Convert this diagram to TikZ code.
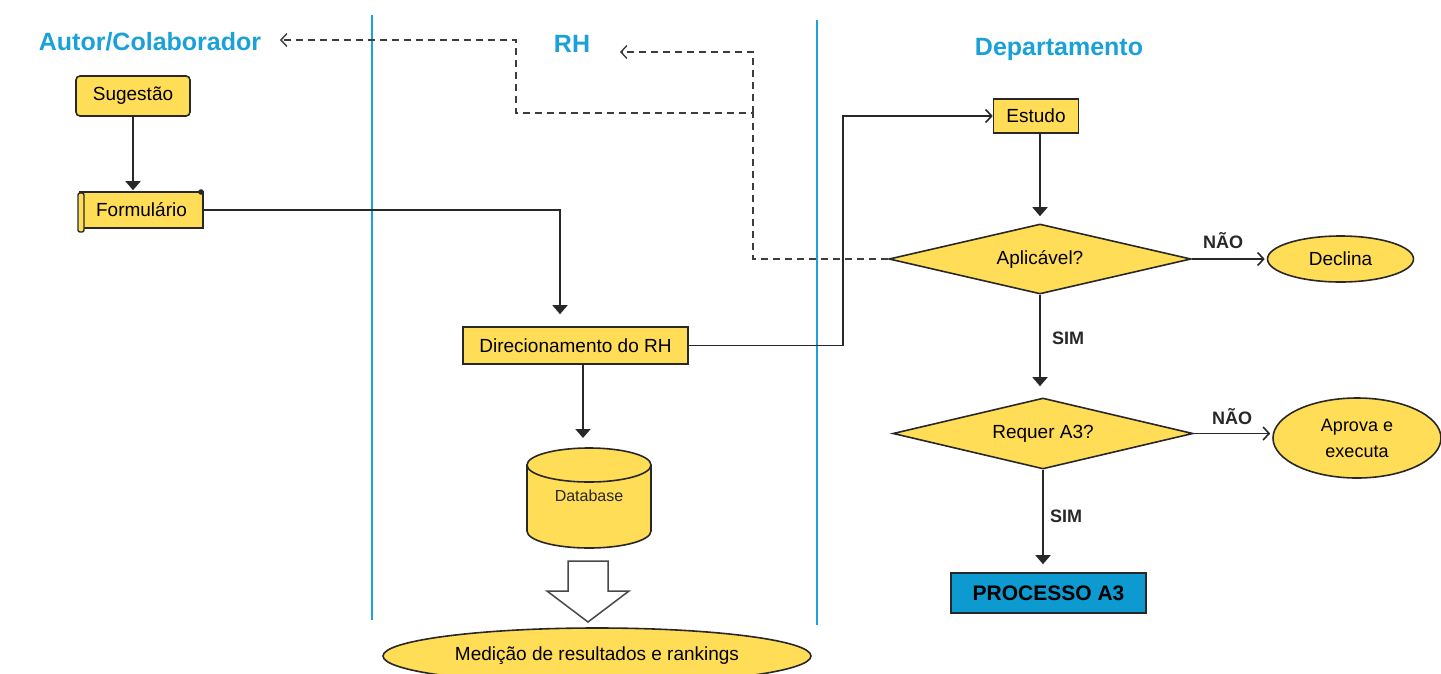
\documentclass[tikz,border=0pt]{standalone}
\usepackage{fontspec}
\setmainfont{Liberation Sans}
\usetikzlibrary{shapes.geometric,arrows.meta}
\definecolor{ybox}{RGB}{255,221,87}
\definecolor{ttl}{RGB}{27,161,217}
\definecolor{lane}{RGB}{30,160,219}
\definecolor{pblue}{RGB}{12,154,208}
\definecolor{ink}{RGB}{40,40,40}
\tikzset{
  box/.style={draw=ink, line width=1.6pt, fill=ybox, inner sep=0pt, font=\fontsize{19}{23}\selectfont},
  dia/.style={box, diamond, aspect=4},
  ell/.style={box, ellipse, align=center},
  title/.style={text=ttl, font=\fontsize{25}{30}\selectfont\bfseries, inner sep=0pt},
  lbl/.style={font=\fontsize{18}{22}\selectfont\bfseries, text=ink, inner sep=0pt},
  flow/.style={draw=ink, line width=1.8pt, -{Triangle[length=9pt,width=15pt]}},
  openflow/.style={draw=ink, line width=1.8pt, -{Straight Barb[length=6pt,width=13pt,line width=1.6pt]}},
  dashline/.style={draw=ink!90, line width=1.6pt, dash pattern=on 7pt off 5pt, -{Straight Barb[length=6pt,width=13pt,line width=1.4pt]}},
  lanestyle/.style={draw=lane, line width=1.8pt}
}
\begin{document}
\begin{tikzpicture}[x=1pt,y=-1pt]
\useasboundingbox (0,0) rectangle (1441,673);
\clip (0,0) rectangle (1441,673);
\fill[white] (0,0) rectangle (1441,673);

% swim-lane separators
\draw[lanestyle] (372,15) -- (372,620);
\draw[lanestyle] (817,20) -- (817,625);

% titles
\node[title] (autor) at (150,42) {Autor/Colaborador};
\node[title] (rh) at (572,44) {RH};
\node[title] (dep) at (1059,49) {Departamento};

% left lane
\node[box, rounded corners=4pt, minimum width=114, minimum height=40] (sug) at (133,96) {Sugestão};
\node[box, minimum width=123, minimum height=36] (form) at (141.5,210) {Formulário};
\filldraw[draw=ink, line width=1.4pt, fill=ybox, rounded corners=2pt] (78,193) rectangle (84,232);
\fill[ink] (201,192) circle (2.8);

% RH lane
\node[box, minimum width=225, minimum height=37] (dir) at (575.5,345.5) {Direcionamento do RH};
% database cylinder
\filldraw[draw=ink, line width=1.6pt, fill=ybox] (589,531) ellipse (62 and 17);
\fill[ybox] (527,465) rectangle (651,531);
\draw[ink, line width=1.6pt] (527,465) -- (527,531);
\draw[ink, line width=1.6pt] (651,465) -- (651,531);
\filldraw[draw=ink, line width=1.6pt, fill=ybox] (589,465) ellipse (62 and 17);
\node[inner sep=0pt, font=\fontsize{16}{19}\selectfont, text=ink] (db) at (589,496) {Database};
\coordinate (dbtop) at (583,448);
% hollow block arrow
\filldraw[draw=ink!85, line width=1.5pt, fill=white] (568,561) -- (608,561) -- (608,591) -- (629,591) -- (588,622) -- (547,591) -- (568,591) -- cycle;
\node[ell, minimum width=428, minimum height=56] (med) at (597,656) {Medição de resultados e rankings};

% Department lane
\node[box, minimum width=85, minimum height=34] (est) at (1036,116) {Estudo};
\node[dia, minimum width=302, minimum height=70] (apl) at (1040,259) {Aplicável?};
\node[ell, minimum width=146, minimum height=46] (dec) at (1340.5,259) {Declina};
\node[dia, minimum width=300, minimum height=71] (req) at (1043,433.5) {Requer A3?};
\node[ell, minimum width=168, minimum height=80, font=\fontsize{18}{26}\selectfont] (apr) at (1357,438) {Aprova e\\executa};
\node[box, fill=pblue, minimum width=195, minimum height=40, font=\fontsize{21}{25}\selectfont\bfseries] (proc) at (1048.5,593) {PROCESSO A3};

% solid connectors
\draw[flow, shorten >=1pt] (sug.south) -- (sug.south |- form.north);
\draw[flow, shorten >=12pt] (form.east) -| ([xshift=-15.5pt]dir.north);
\draw[flow, shorten >=10pt] (dbtop |- dir.south) -- (dbtop);
\draw[openflow] (dir.east) -- ++(154,0) |- (est.west);
\draw[flow, shorten >=7pt] (apl.north |- est.south) -- (apl.north);
\draw[openflow, shorten >=2pt] (apl.east) -- (dec.west);
\draw[flow, shorten >=11pt] (apl.south) -- (apl.south |- req.north);
\draw[openflow, shorten >=2pt] (req.east) -- (req.east -| apr.west);
\draw[flow, shorten >=8pt] (req.south) -- (req.south |- proc.north);

% branch labels
\node[lbl] (n1) at (1223,241) {NÃO};
\node[lbl] (s1) at (1068,338) {SIM};
\node[lbl] (n2) at (1232,417) {NÃO};
\node[lbl] (s2) at (1066,516) {SIM};

% dashed feedback connectors
\coordinate (j1) at (753,259);
\coordinate (j2) at (753,113);
\coordinate (j3) at (516,113);
\coordinate (j4) at (516,40);
\coordinate (autorIn) at (280,40);
\coordinate (j5) at (753,52);
\coordinate (rhIn) at (620,52);
\draw[dashline] (apl.west) -- (j1) -- (j2) -- (j3) -- (j4) -- (autorIn);
\draw[dashline] (j2) -- (j5) -- (rhIn);
\end{tikzpicture}
\end{document}
